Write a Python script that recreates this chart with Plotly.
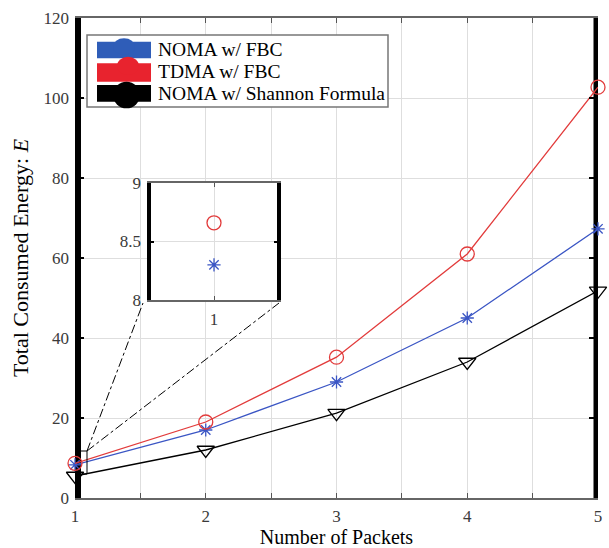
import plotly.graph_objects as go

packets = [1, 2, 3, 4, 5]
noma_fbc = [8.3, 17, 29, 45, 67.3]
tdma_fbc = [8.66, 19, 35.2, 61, 102.7]
noma_shannon = [5.5, 12, 21.2, 34, 51.8]

series_names = ["NOMA w/ FBC", "TDMA w/ FBC", "NOMA w/ Shannon Formula"]
x_tick_vals = [1, 1.5, 2, 2.5, 3, 3.5, 4, 4.5, 5]
x_tick_text = ["1", "", "2", "", "3", "", "4", "", "5"]
y_range = [0, 120]
y_tick_vals = [0, 20, 40, 60, 80, 100, 120]
inset_x_range = [0.99, 1.01]
inset_y_range = [8, 9]
inset_y_ticks = [8, 8.5, 9]
inset_y_text = ["8", "8.5", "9"]

BLUE = "#3a55c4"
RED = "#e23b3b"
BLACK = "#000000"
FONT = "Liberation Serif, serif"

fig = go.Figure()

# thick black side bars of the main axes (decoration, drawn beneath data)
for xv, w in [(packets[0], 12), (packets[-1], 9)]:
    fig.add_trace(go.Scatter(
        x=[xv, xv], y=[y_range[0] - 0.5, y_range[1]], mode="lines",
        line=dict(color="black", width=w), cliponaxis=False,
        hoverinfo="skip", showlegend=False, xaxis="x", yaxis="y"))

styles = [
    (noma_fbc, BLUE, "asterisk-open", 11),
    (tdma_fbc, RED, "circle-open", 14),
    (noma_shannon, BLACK, "triangle-down-open", 15),
]

for (vals, col, sym, sz), name in zip(styles, series_names):
    fig.add_trace(go.Scatter(
        x=packets, y=vals, name=name, mode="lines+markers",
        line=dict(color=col, width=1.3),
        marker=dict(symbol=sym, size=sz, color=col, line=dict(color=col, width=1.3)),
        cliponaxis=False, showlegend=False, xaxis="x", yaxis="y"))

# white background for inset (hidden axes x2/y2)
fig.add_trace(go.Scatter(
    x=[0, 1, 1, 0, 0], y=[0, 0, 1, 1, 0], fill="toself", fillcolor="white",
    line=dict(width=0), mode="lines", hoverinfo="skip", showlegend=False,
    xaxis="x2", yaxis="y2"))

# inset side bars
for xv in inset_x_range:
    fig.add_trace(go.Scatter(
        x=[xv, xv], y=[inset_y_range[0] - 0.045, inset_y_range[1] + 0.045], mode="lines",
        line=dict(color="black", width=8), cliponaxis=False,
        hoverinfo="skip", showlegend=False, xaxis="x3", yaxis="y3"))

# inset markers
for (vals, col, sym, sz), name in zip(styles[:2], series_names[:2]):
    fig.add_trace(go.Scatter(
        x=packets[:1], y=vals[:1], mode="markers", showlegend=False,
        marker=dict(symbol=sym, size=sz, color=col, line=dict(color=col, width=1.3)),
        xaxis="x3", yaxis="y3"))

px_l, px_r, px_t, px_b = 75, 598, 18, 498
W = px_r - px_l
H = px_b - px_t

def pxx(p):
    return (p - px_l) / W

def pxy(p):
    return (px_b - p) / H

inset_dom_x = [pxx(147), pxx(281)]
inset_dom_y = [pxy(300), pxy(183)]

tickfont = dict(family=FONT, size=17, color="#3a3a3a")

fig.update_layout(
    width=609, height=548,
    margin=dict(l=75, r=11, t=18, b=50, autoexpand=False),
    paper_bgcolor="white", plot_bgcolor="white",
    font=dict(family=FONT, color="black"),
    xaxis=dict(range=[1, 5], tickvals=x_tick_vals, ticktext=x_tick_text, automargin=False,
               ticks="inside", ticklen=5, tickcolor="#555", tickwidth=1,
               showline=True, linecolor="#666", linewidth=1.5, mirror="ticks",
               showgrid=True, gridcolor="#dedede", gridwidth=1, zeroline=False,
               tickfont=tickfont, ticklabelstandoff=2,
               title=dict(text="Number of Packets", font=dict(family=FONT, size=20), standoff=6)),
    yaxis=dict(range=y_range, tickvals=y_tick_vals, automargin=False,
               ticks="inside", ticklen=9, tickcolor="black", tickwidth=2,
               showline=False, mirror="ticks",
               showgrid=True, gridcolor="#dedede", gridwidth=1, zeroline=False,
               tickfont=tickfont, ticklabelstandoff=5,
               title=dict(text="Total Consumed Energy: <i>E</i>", font=dict(family=FONT, size=22), standoff=8)),
    xaxis2=dict(domain=inset_dom_x, range=[0, 1], visible=False, anchor="y2"),
    yaxis2=dict(domain=inset_dom_y, range=[0, 1], visible=False, anchor="x2"),
    xaxis3=dict(domain=inset_dom_x, range=inset_x_range, anchor="y3", automargin=False,
                tickvals=[1], ticktext=["1"], ticks="inside", ticklen=4, tickcolor="#555",
                showline=True, linecolor="#666", linewidth=1.5, mirror="ticks",
                showgrid=True, gridcolor="#dedede", zeroline=False, tickfont=tickfont,
                ticklabelstandoff=3),
    yaxis3=dict(domain=inset_dom_y, range=inset_y_range, anchor="x3", automargin=False,
                tickvals=inset_y_ticks, ticktext=inset_y_text,
                ticks="inside", ticklen=7, tickcolor="black", tickwidth=2, mirror="ticks",
                showline=False, showgrid=True, gridcolor="#dedede", zeroline=False,
                tickfont=tickfont, ticklabelstandoff=5),
)

shapes = []

def dx(p):
    return 1 + (p - px_l) / (W / 4)

def dy(p):
    return (px_b - p) / (H / 120)

# zoom rectangle around x=1
shapes.append(dict(type="rect", xref="x", yref="y", x0=dx(63), x1=dx(87), y0=dy(474), y1=dy(451),
                   line=dict(color="black", width=1)))
shapes.append(dict(type="line", xref="x", yref="y", x0=dx(63), x1=dx(69), y0=dy(451), y1=dy(440),
                   line=dict(color="black", width=1)))
shapes.append(dict(type="line", xref="x", yref="y", x0=dx(63), x1=dx(70), y0=dy(474), y1=dy(483),
                   line=dict(color="black", width=1)))
# connectors
shapes.append(dict(type="line", xref="x", yref="y", x0=dx(87), x1=dx(143), y0=dy(451), y1=dy(303),
                   line=dict(color="black", width=1, dash="dashdot")))
shapes.append(dict(type="line", xref="x", yref="y", x0=dx(87), x1=dx(279), y0=dy(451), y1=dy(303),
                   line=dict(color="black", width=1, dash="dashdot")))

# custom legend
shapes.append(dict(type="rect", xref="paper", yref="paper", x0=pxx(87), x1=pxx(388),
                   y0=pxy(107), y1=pxy(35), line=dict(color="#777", width=1.5), fillcolor="white",
                   layer="above"))
patch_rows = [
    ("#2f5db8", 41.7, 58.3, 113, 135, 38.3, 55),
    ("#e8232e", 63.3, 81.7, 117, 139, 56.7, 75),
    ("#000000", 85, 101.7, 113, 140, 81.7, 108.3),
]
for col, t, b, ex0, ex1, et, eb in patch_rows:
    shapes.append(dict(type="rect", xref="paper", yref="paper", x0=pxx(97), x1=pxx(151),
                       y0=pxy(b), y1=pxy(t), line=dict(width=0), fillcolor=col, layer="above"))
    shapes.append(dict(type="circle", xref="paper", yref="paper", x0=pxx(ex0), x1=pxx(ex1),
                       y0=pxy(eb), y1=pxy(et), line=dict(width=0), fillcolor=col, layer="above"))

fig.update_layout(shapes=shapes)

for name, cy in zip(series_names, [49, 71, 93]):
    fig.add_annotation(xref="paper", yref="paper", x=pxx(156), y=pxy(cy), text=name,
                       showarrow=False, xanchor="left", yanchor="middle",
                       font=dict(family=FONT, size=19.5, color="black"))

fig.write_html("out.html")
